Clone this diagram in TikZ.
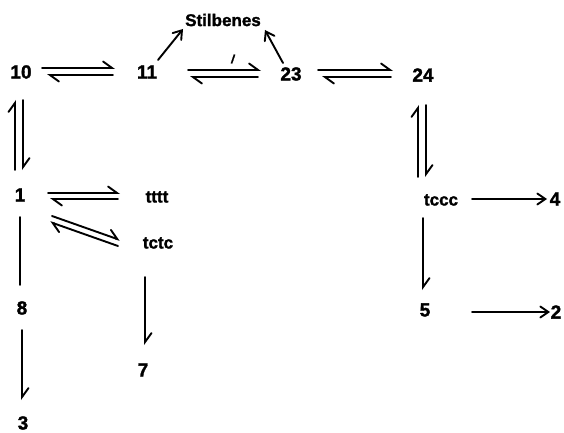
\documentclass[tikz,border=0pt]{standalone}
\usepackage{fontspec}
\setmainfont{Liberation Sans}[BoldFeatures={FakeBold=1.6}]
\usetikzlibrary{arrows.meta}
\begin{document}
\begin{tikzpicture}[x=1pt,y=-1pt,
  every node/.style={inner sep=0pt, font=\bfseries},
  num/.style={font=\fontsize{19}{19}\selectfont\bfseries},
  conf/.style={font=\fontsize{17}{17}\selectfont\bfseries},
  link/.style={line width=1.9pt, line cap=round},
  harp/.style={link, -{Straight Barb[harpoon, length=9pt, width=13pt, line cap=round]}},
  fullhead/.style={link, -{Straight Barb[length=8pt, width=11pt, line cap=round]}},
  sh/.style={shift={#1}}]
\useasboundingbox (0,0) rectangle (564,433);

% compounds and conformers
\node[conf] (stil) at (223,20) {Stilbenes};
\node[num] (n10) at (21,72) {10};
\node[num] (n11) at (147,72) {11};
\node[num] (n23) at (291,74) {23};
\node[num] (n24) at (423,75) {24};
\node[num] (n1) at (20,195) {1};
\node[conf] (tttt) at (157,197) {tttt};
\node[conf] (tctc) at (158,243) {tctc};
\node[num] (n8) at (22,308) {8};
\node[num] (n3) at (23,423) {3};
\node[num] (n7) at (143,370) {7};
\node[conf] (tccc) at (441,200) {tccc};
\node[num] (n4) at (555,199) {4};
\node[num] (n5) at (425,310) {5};
\node[num] (n2) at (556,312) {2};
\node[font=\fontsize{12}{12}\selectfont\bfseries, rotate=-8] (lbl) at (233,59) {/};

% 10 <=> 11
\draw[harp] ([sh={(21,-4)}]n10.center) -- ([sh={(-32,-4)}]n11.center);
\draw[harp] ([sh={(-34,3)}]n11.center) -- ([sh={(26,3)}]n10.center);
% 11 <=> 23
\draw[harp] ([sh={(41,-2)}]n11.center) -- ([sh={(-30,-4)}]n23.center);
\draw[harp] ([sh={(-33,3)}]n23.center) -- ([sh={(43,5)}]n11.center);
% 23 <=> 24
\draw[harp] ([sh={(27,-4)}]n23.center) -- ([sh={(-30,-5)}]n24.center);
\draw[harp] ([sh={(-32,2)}]n24.center) -- ([sh={(31,3)}]n23.center);
% 10 <=> 1
\draw[harp] ([sh={(-5,-25)}]n1.center) -- ([sh={(-6,28)}]n10.center);
\draw[harp] ([sh={(2,28)}]n10.center) -- ([sh={(3,-25)}]n1.center);
% 24 <=> tccc
\draw[harp] ([sh={(-23,-23)}]tccc.center) -- ([sh={(-5,30)}]n24.center);
\draw[harp] ([sh={(3,30)}]n24.center) -- ([sh={(-15,-23)}]tccc.center);
% 1 <=> tttt
\draw[harp] ([sh={(28,-2)}]n1.center) -- ([sh={(-37,-4)}]tttt.center);
\draw[harp] ([sh={(-39,2)}]tttt.center) -- ([sh={(30,4)}]n1.center);
% 1 <=> tctc
\draw[harp] ([sh={(32,21)}]n1.center) -- ([sh={(-38,-3)}]tctc.center);
\draw[harp] ([sh={(-40,3)}]tctc.center) -- ([sh={(30,27)}]n1.center);

% irreversible steps
\draw[harp] ([sh={(-13,34)}]tctc.center) -- ([sh={(2,-25)}]n7.center);
\draw[link] ([sh={(0,22)}]n1.center) -- ([sh={(-2,-23)}]n8.center);
\draw[harp] ([sh={(0,22)}]n8.center) -- ([sh={(-1,-23)}]n3.center);
\draw[harp] ([sh={(-18,18)}]tccc.center) -- ([sh={(-2,-20)}]n5.center);
\draw[fullhead] ([sh={(31,-1)}]tccc.center) -- ([sh={(-8,0)}]n4.center);
\draw[fullhead] ([sh={(47,2)}]n5.center) -- ([sh={(-6,0)}]n2.center);
\draw[fullhead] ([sh={(11,-12)}]n11.center) -- ([sh={(-40,9)}]stil.center);
\draw[fullhead] ([sh={(-8,-11)}]n23.center) -- ([sh={(42,10)}]stil.center);
\end{tikzpicture}
\end{document}
